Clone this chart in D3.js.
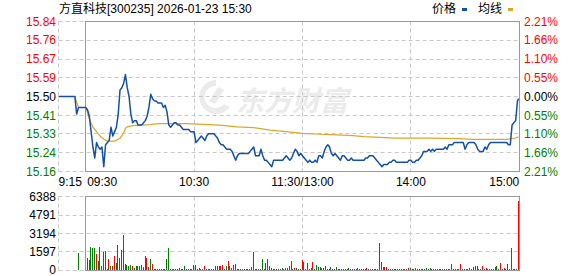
<!DOCTYPE html>
<html>
<head>
<meta charset="utf-8">
<script src="https://cdn.jsdelivr.net/npm/d3@7"></script>
<style>
  html, body { margin: 0; padding: 0; background: #fff; }
  svg { display: block; font-family: "Liberation Sans", Arial, "Noto Sans CJK SC", sans-serif; }
</style>
</head>
<body>
<div id="chart"></div>
<script>
// ---- data ----
const title = "方直科技[300235] 2026-01-23 15:30";
const prevClose = 15.50;

// 9:15 .. 9:29 (call auction), minutes -15 .. -1
const prePrices = [15.50,15.50,15.50,15.50,15.50,15.50,15.50,15.50,15.50,15.50,15.42,15.45,15.45,15.45,15.45];
const preVolMinute = -5;
const preVolume = 1500;

// 9:30 .. 15:00, one value per trading minute (0 .. 240)
const prices = [
  15.45,15.44,15.41,15.34,15.27,15.22,15.29,15.27,15.26,15.27,
  15.18,15.28,15.29,15.30,15.36,15.32,15.34,15.36,15.42,15.53,
  15.54,15.56,15.60,15.54,15.50,15.42,15.38,15.39,15.39,15.37,
  15.37,15.37,15.38,15.39,15.41,15.45,15.51,15.49,15.48,15.48,
  15.47,15.47,15.47,15.45,15.46,15.43,15.37,15.36,15.37,15.38,
  15.38,15.37,15.37,15.36,15.35,15.35,15.35,15.35,15.34,15.34,
  15.34,15.29,15.30,15.31,15.32,15.31,15.30,15.32,15.33,15.33,
  15.33,15.33,15.32,15.31,15.29,15.28,15.28,15.27,15.26,15.26,
  15.26,15.25,15.23,15.21,15.23,15.24,15.24,15.24,15.24,15.24,
  15.24,15.25,15.26,15.27,15.23,15.23,15.23,15.26,15.23,15.21,
  15.21,15.20,15.19,15.18,15.21,15.21,15.21,15.21,15.21,15.21,
  15.22,15.23,15.22,15.21,15.22,15.24,15.26,15.25,15.23,15.24,
  15.23,15.22,15.21,15.20,15.21,15.20,15.20,15.21,15.20,15.23,
  15.23,15.22,15.25,15.27,15.28,15.27,15.24,15.23,15.24,15.23,
  15.22,15.21,15.23,15.23,15.22,15.21,15.21,15.22,15.21,15.21,
  15.21,15.21,15.21,15.21,15.21,15.22,15.22,15.23,15.23,15.23,
  15.22,15.21,15.20,15.19,15.18,15.19,15.19,15.19,15.20,15.20,
  15.21,15.21,15.20,15.20,15.20,15.20,15.20,15.20,15.20,15.21,
  15.21,15.20,15.20,15.21,15.21,15.22,15.23,15.25,15.25,15.25,
  15.26,15.25,15.26,15.25,15.26,15.26,15.26,15.26,15.26,15.27,
  15.26,15.28,15.28,15.28,15.29,15.29,15.29,15.29,15.29,15.29,
  15.26,15.28,15.29,15.29,15.29,15.29,15.28,15.26,15.25,15.25,
  15.25,15.27,15.26,15.28,15.29,15.29,15.29,15.29,15.29,15.29,
  15.29,15.29,15.29,15.29,15.28,15.28,15.37,15.38,15.39,15.48,
  15.49
];

// average price line (minute, value)
const avgMinutes = [-15,-6,-4,0,2,4,6,8,10,12,16,19,21,22,23,26,30,36,40,47,56,65,74,84,93,102,111,120,130,139,148,154,163,171,189,207,214,233,238,240];
const avgPrices  = [15.50,15.50,15.45,15.45,15.40,15.36,15.34,15.32,15.305,15.297,15.297,15.31,15.333,15.355,15.362,15.367,15.37,15.372,15.376,15.377,15.376,15.373,15.37,15.362,15.358,15.347,15.34,15.332,15.328,15.325,15.322,15.317,15.314,15.31,15.31,15.308,15.305,15.305,15.311,15.317];

// volume per minute (0 .. 240)
const volumes = [
  900,1060,900,2000,1900,1900,1400,780,2000,340,
  1600,1680,120,920,360,340,1260,620,2180,1060,
  1760,3020,560,420,360,420,360,200,360,340,
  360,420,220,1180,1060,250,980,560,90,90,
  90,90,90,90,90,920,1880,80,90,90,
  90,80,170,90,90,330,90,90,90,90,
  470,470,90,170,80,90,330,90,80,90,
  90,90,390,390,390,330,470,100,330,750,
  330,200,470,560,80,80,80,80,80,80,
  80,80,280,1600,80,80,80,80,950,80,
  620,1000,330,170,80,80,80,80,80,170,
  80,170,170,330,760,80,170,170,80,80,
  840,670,80,590,80,170,670,80,470,250,
  250,170,140,310,80,80,280,80,80,250,
  80,80,80,80,80,80,170,80,80,80,
  80,170,80,80,80,90,150,80,80,80,
  80,80,80,2370,680,220,300,220,80,80,
  80,80,80,80,80,90,90,90,90,180,
  150,90,90,180,80,80,80,80,80,180,
  90,150,80,80,80,80,80,80,80,80,
  120,90,90,500,90,90,90,90,500,80,
  80,80,80,180,90,270,330,330,90,80,
  330,90,180,90,90,90,80,240,330,80,
  590,90,180,90,500,90,1950,90,90,90,
  5980
];
// bar colour per minute: R = up (red), G = down (green)
const volDir = (
  "GGGGGGRGGR GRRRGRRGRR GRGGGGRGGG RRGGRRGRRR RRRRRGGRRR " +
  "RGGRRGRRRR GGRRGRRRGR RRGRGRRGGR GGGRRRRRRR RRGGRRRRGR " +
  "RRGRRRGRRG RRGRRRRGRR RGRRRGRRGG GRRRRGGRRG RRRGRRGRRR " +
  "RGRRRRRRGR RGRGGRRRRR GRRRRRRRRR GRRRRRRRRG RGRRRGRRRR " +
  "RRRGRGRRRR RRRRRGGGRR RRRRRRRGGR RGRRGRRRGR R"
).replace(/\s/g, "").split("");

// axis ticks
const pctTicks = [2.21, 1.66, 1.10, 0.55, 0, -0.55, -1.10, -1.66, -2.21];
const priceLabels = ["15.84","15.76","15.67","15.59","15.50","15.41","15.33","15.24","15.16"];
const pctLabels = ["2.21%","1.66%","1.10%","0.55%","0.00%","0.55%","1.10%","1.66%","2.21%"];
const volTicks = [6388, 4791, 3194, 1597, 0];
const timeTicks = [-15, 0, 60, 120, 180, 240];
const timeLabels = ["9:15", "09:30", "10:30", "11:30/13:00", "14:00", "15:00"];

// ---- drawing ----
const W = 578, H = 276;
const RED = "#ff0000", GREEN = "#008000", BLUE = "#1450a5", GOLD = "#dfa42a";
const GRID = "#c8c8c8", FRAME = "#999999";

const svg = d3.select("#chart").append("svg")
  .attr("width", W).attr("height", H);

const x = d3.scaleLinear().domain([-15, 240]).range([58.6, 519.3]);
const y = d3.scaleLinear()
  .domain([prevClose * (1 - 0.0221), prevClose * (1 + 0.0221)])
  .range([171.7, 21.3]);
const yv = d3.scaleLinear().domain([0, 6388]).range([270, 196.7]);
// bar columns: 9:30 sits under the left frame, 15:00 just inside the right one
const xb = d3.scaleLinear().domain([0, 240]).range([85, 518]);

const crisp = v => Math.floor(v) + 0.5;
const labelColor = i => i < 4 ? RED : (i === 4 ? "#000" : GREEN);

// title + legend
svg.append("text").attr("x", 59).attr("y", 13)
  .attr("font-size", 12).attr("fill", "#000").text(title);

const legend = [{name: "价格", c: BLUE, x: 432}, {name: "均线", c: GOLD, x: 478}];
legend.forEach(l => {
  svg.append("text").attr("x", l.x).attr("y", 13)
    .attr("font-size", 12).attr("fill", "#000").text(l.name);
  svg.append("rect").attr("x", l.x + 30).attr("y", 8)
    .attr("width", 5).attr("height", 3).attr("fill", l.c);
});

// watermark
const wm = svg.append("g").attr("fill", "#ebebeb");
wm.append("path")
  .attr("d", "M216,80 a17,17 0 1,0 14,27 l-6,-3 a11,11 0 1,1 -8,-18 z");
wm.append("path")
  .attr("d", "M209,101 l9,-14 l6,3 l-9,14 z");
wm.append("text").attr("x", 236).attr("y", 111)
  .attr("font-family", "Noto Sans CJK SC").attr("font-weight", "bold")
  .attr("font-size", 28).attr("font-style", "italic").text("东方财富");

// grid
const grid = svg.append("g").attr("stroke", GRID).attr("stroke-dasharray", "4,3").attr("fill", "none");
pctTicks.forEach(p => {
  const yy = crisp(y(prevClose * (1 + p / 100)));
  grid.append("line").attr("x1", x(-15)).attr("x2", x(240)).attr("y1", yy).attr("y2", yy);
});
volTicks.forEach(v => {
  const yy = crisp(yv(v));
  grid.append("line").attr("x1", x(-15)).attr("x2", x(240)).attr("y1", yy).attr("y2", yy);
});
[-15, 60, 120, 180].forEach(m => {
  const xx = crisp(x(m));
  grid.append("line").attr("x1", xx).attr("x2", xx)
    .attr("y1", crisp(y.range()[1])).attr("y2", crisp(y.range()[0]));
  grid.append("line").attr("x1", xx).attr("x2", xx)
    .attr("y1", crisp(yv(6388))).attr("y2", crisp(yv(0)));
});

// volume bars
const bars = volumes.map((v, i) => ({x: xb(i), v: v, c: volDir[i] === "R" ? RED : GREEN}));
bars.push({x: x(preVolMinute) + 1, v: preVolume, c: GREEN});
svg.append("g").selectAll("rect").data(bars).enter().append("rect")
  .attr("x", d => Math.round(d.x))
  .attr("width", 1)
  .attr("y", d => Math.round(yv(d.v)))
  .attr("height", d => Math.floor(yv(0)) - Math.round(yv(d.v)))
  .attr("fill", d => d.c)
  .attr("shape-rendering", "crispEdges");

// frames
const frame = svg.append("g").attr("fill", "none").attr("stroke", FRAME).attr("shape-rendering", "crispEdges");
const fx0 = crisp(x(0)), fx1 = crisp(x(240));
frame.append("rect")
  .attr("x", fx0).attr("y", crisp(y.range()[1]))
  .attr("width", fx1 - fx0)
  .attr("height", crisp(y.range()[0]) - crisp(y.range()[1]));
frame.append("rect")
  .attr("x", fx0).attr("y", crisp(yv(6388)))
  .attr("width", fx1 - fx0)
  .attr("height", crisp(yv(0)) - crisp(yv(6388)));

// price + average lines
const pricePts = prePrices.map((p, i) => ({m: i - 15, p: p}))
  .concat(prices.map((p, i) => ({m: i, p: p})));
const avgPts = avgMinutes.map((m, i) => ({m: m, p: avgPrices[i]}));
const line = d3.line().x(d => Math.min(x(d.m), 518.6)).y(d => y(d.p));

svg.append("path").datum(avgPts).attr("d", line)
  .attr("fill", "none").attr("stroke", GOLD).attr("stroke-width", 1.2);
svg.append("path").datum(pricePts).attr("d", line)
  .attr("fill", "none").attr("stroke", BLUE).attr("stroke-width", 1.5)
  .attr("stroke-linejoin", "round");

// left price labels / right percent labels
const axisText = svg.append("g").attr("font-size", 12);
pctTicks.forEach((p, i) => {
  const yy = y(prevClose * (1 + p / 100)) + 4.3;
  axisText.append("text").attr("x", 56).attr("y", yy).attr("text-anchor", "end")
    .attr("fill", labelColor(i)).text(priceLabels[i]);
  axisText.append("text").attr("x", 524).attr("y", yy)
    .attr("fill", labelColor(i)).text(pctLabels[i]);
});
volTicks.forEach(v => {
  axisText.append("text").attr("x", 56).attr("y", yv(v) + 4.3).attr("text-anchor", "end")
    .attr("fill", "#000").text(v);
});

// time labels
const anchors = ["start", "start", "middle", "middle", "middle", "end"];
timeTicks.forEach((m, i) => {
  axisText.append("text")
    .attr("x", i === 1 ? x(m) + 1.5 : x(m))
    .attr("y", 186)
    .attr("text-anchor", anchors[i])
    .attr("fill", "#000")
    .text(timeLabels[i]);
});
</script>
</body>
</html>
